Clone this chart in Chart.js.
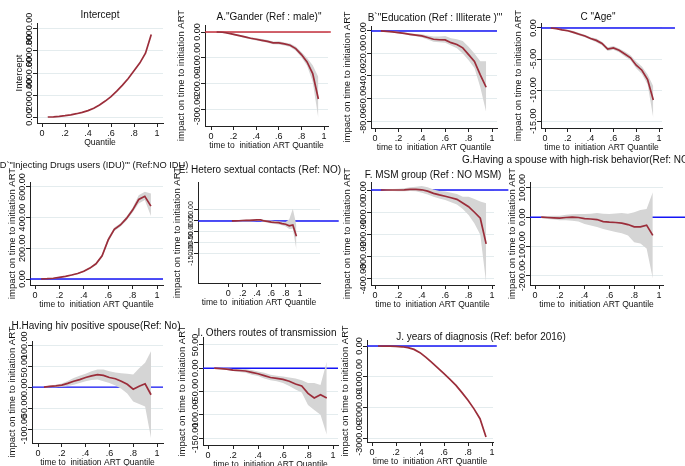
<!DOCTYPE html>
<html>
<head>
<meta charset="utf-8">
<script src="https://cdn.jsdelivr.net/npm/chart.js@4.4.1/dist/chart.umd.min.js"></script>
<style>
  body { margin: 0; background: #fff; }
  #wrap { position: relative; width: 685px; height: 466px; overflow: hidden; }
  #wrap canvas { position: absolute; left: 0; top: 0; }
</style>
</head>
<body>
<div id="wrap"></div>
<script>
// quantiles of time to ART initiation
const quantiles = [0.05, 0.1, 0.15, 0.2, 0.25, 0.3, 0.35, 0.4, 0.45, 0.5, 0.55, 0.6, 0.65, 0.7, 0.75, 0.8, 0.85, 0.9, 0.95]
const xTicks = [0, 0.2, 0.4, 0.6, 0.8, 1]

const interceptEst = [0, 20, 60, 120, 200, 300, 420, 580, 800, 1100, 1450, 1850, 2350, 2900, 3500, 4200, 4900, 5800, 7500]
const interceptTicks = [0, 2000, 4000, 6000, 8000]

const genderEst = [0, -1, -4, -9, -14, -19, -24, -28, -32, -36, -42, -42, -46, -51, -64, -87, -115, -160, -258]
const genderLo = [0, -2, -6, -12, -17, -23, -28, -33, -37, -41, -47, -48, -52, -58, -72, -97, -130, -192, -332]
const genderHi = [0, 0, -2, -6, -11, -15, -20, -23, -27, -31, -37, -36, -40, -44, -56, -77, -100, -128, -173]
const genderTicks = [-300, -200, -100, 0]

const eduEst = [0, -0.3, -0.8, -1.5, -2.2, -3, -3.7, -4.4, -5.8, -7.4, -7.8, -8, -10.4, -12, -15, -21, -27, -39, -50]
const eduLo = [0, -0.5, -1.3, -2.2, -3, -4, -4.8, -5.8, -7.5, -9.5, -10, -10.4, -13, -15.4, -20, -26, -33, -50, -72]
const eduHi = [0, -0.1, -0.3, -0.8, -1.4, -2, -2.6, -3, -4, -5, -5, -4.4, -6.5, -7.4, -9, -14, -20, -27, -27]
const eduTicks = [-80, -60, -40, -20, 0]

const ageEst = [0, -0.1, -0.3, -0.45, -0.7, -1, -1.3, -1.7, -2, -2.5, -3.4, -3.2, -3.6, -4.2, -4.8, -6, -6.8, -8.3, -11.6]
const ageLo = [0, -0.2, -0.4, -0.6, -0.9, -1.2, -1.5, -1.9, -2.3, -2.8, -3.7, -3.5, -3.9, -4.6, -5.2, -6.5, -7.4, -9.1, -14.5]
const ageHi = [0, 0, -0.2, -0.3, -0.5, -0.8, -1.1, -1.5, -1.7, -2.2, -3.1, -2.9, -3.3, -3.8, -4.4, -5.4, -6.2, -7.5, -9.4]
const ageTicks = [-15, -10, -5, 0]

const iduEst = [0, 2, 5, 11, 17, 26, 36, 50, 71, 99, 151, 255, 324, 352, 395, 449, 518, 539, 475]
const iduLo = [0, 1, 3, 8, 14, 22, 31, 45, 65, 92, 140, 240, 312, 340, 382, 434, 492, 514, 410]
const iduHi = [0, 3, 7, 14, 20, 30, 41, 55, 77, 106, 162, 270, 336, 364, 408, 464, 546, 568, 557]
const iduTicks = [0, 200, 400, 600]

const heteroEst = [0, 0, 1, 2, 2.5, 3, 4, 5, 5, 0, -2, -5, -7, -8, -12, -15, -22, -18, -70]
const heteroLo = [0, -2, -3, -2, -2, -2, -1, 0, 0, -5, -8, -12, -14, -16, -20, -25, -37, -35, -132]
const heteroHi = [0, 2, 4, 5, 6, 7, 8, 9, 9, 5, 3, 2, 0, -1, -4, -5, 8, 55, -20]
const heteroTicks = [-150, -100, -50, 0, 50]

const msmEst = [0, 0, 0, 0, 1, 3, 3, 1, -5, -15, -22, -28, -35, -42, -58, -75, -100, -127, -242]
const msmLo = [0, -3, -5, -6, -6, -5, -6, -12, -20, -30, -38, -45, -55, -65, -85, -112, -150, -201, -418]
const msmHi = [0, 3, 5, 6, 8, 12, 15, 18, 12, 2, -5, -7, -12, -18, -30, -30, -40, -52, -60]
const msmTicks = [-400, -300, -200, -100, 0]

const riskEst = [0, -1, -2, -3, -1, 0, -1, -5, -6, -8, -15, -17, -18, -20, -25, -33, -33, -27, -62]
const riskLo = [-3, -6, -8, -10, -10, -12, -15, -23, -28, -33, -40, -45, -50, -55, -62, -85, -90, -107, -209]
const riskHi = [3, 4, 5, 5, 8, 10, 11, 11, 12, 14, 12, 11, 13, 14, 12, 17, 25, 28, 85]
const riskTicks = [-200, -100, 0, 100]

const hivEst = [0, 2, 3, 5, 9, 14, 18, 23, 27, 30, 28, 23, 20, 14, 7, -5, 2, 8, -18]
const hivLo = [-1, 0, 0, 1, 3, 6, 10, 14, 17, 18, 14, 10, 4, -4, -15, -34, -40, -46, -122]
const hivHi = [1, 4, 6, 9, 15, 22, 27, 32, 38, 42, 42, 38, 35, 33, 32, 30, 45, 58, 86]
const hivTicks = [-100, -50, 0, 50, 100]

const otherEst = [0, -1, -2, -4, -5, -6, -9, -12, -16, -20, -22, -24, -28, -34, -38, -54, -64, -57, -64]
const otherLo = [-1, -2, -4, -6, -8, -10, -14, -17, -22, -26, -28, -32, -38, -46, -52, -79, -90, -100, -143]
const otherHi = [1, 0, 0, -2, -2, -2, -4, -7, -10, -14, -16, -18, -20, -22, -26, -32, -32, -36, 14]
const otherTicks = [-150, -100, -50, 0, 50]

const yearsEst = [0, -2, -5, -11, -25, -54, -110, -217, -370, -543, -720, -902, -1090, -1283, -1520, -1772, -2050, -2370, -2967]
const yearsTicks = [-3000, -2000, -1000, 0]

const FONT = '"Liberation Sans", Arial, sans-serif'
const lineRed = '#9b2d3a'
const bandGrey = '#d5d5d5'
const refBlue = '#1515f5'
const gridColor = '#e4ecee'
const yLab = 'impact on time to initiation ART'
const xLab = 'time to  initiation ART Quantile'

// draws the Stata-like titles and the rotated y tick labels
const panelText = {
  id: 'panelText',
  afterDraw(chart, args, o) {
    const { ctx, chartArea: a } = chart
    const ys = chart.scales.y
    ctx.save()
    ctx.fillStyle = '#111'
    ctx.textAlign = 'center'
    ctx.textBaseline = 'middle'
    ctx.font = `${o.titleSize}px ${FONT}`
    ctx.fillText(o.title, o.titleX, o.titleY)
    ctx.font = `8.5px ${FONT}`
    ctx.fillText(o.xTitle, (a.left + a.right) / 2, a.bottom + 20)
    ctx.font = `${o.tickSize}px ${FONT}`
    ys.ticks.forEach(t => {
      ctx.save()
      ctx.translate(a.left - 7, ys.getPixelForValue(t.value))
      ctx.rotate(-Math.PI / 2)
      ctx.fillText(t.value.toFixed(2), 0, 0)
      ctx.restore()
    })
    ctx.font = `9.5px ${FONT}`
    ctx.translate(a.left - o.yTitleOff, (a.top + a.bottom) / 2)
    ctx.rotate(-Math.PI / 2)
    ctx.fillText(o.yTitle, 0, 0)
    ctx.restore()
  }
}

const panels = [
  { title: 'Intercept', titleX: 100, titleY: 15, est: interceptEst, yTicks: interceptTicks, yMin: -545, yMax: 8545,
    box: { l: 37, t: 23, r: 163, b: 123 }, x0: 42, x1: 157, yTitle: 'Intercept', xTitle: 'Quantile', yTitleOff: 18 },
  { title: 'A."Gander (Ref : male)"', titleX: 269, titleY: 17, est: genderEst, lo: genderLo, hi: genderHi,
    yTicks: genderTicks, yMin: -362, yMax: 27, box: { l: 205, t: 25, r: 328, b: 126 }, x0: 211, x1: 324,
    ref: '#c62f3b', refTo: 1.06, yTitleOff: 24 },
  { title: 'B`"Education (Ref : Illiterate )"\'', titleX: 435, titleY: 18, est: eduEst, lo: eduLo, hi: eduHi,
    yTicks: eduTicks, yMin: -86.2, yMax: 4.4, box: { l: 371, t: 26, r: 497, b: 128 }, x0: 375, x1: 492,
    ref: refBlue, yTitleOff: 24 },
  { title: 'C "Age"', titleX: 598, titleY: 17, est: ageEst, lo: ageLo, hi: ageHi,
    yTicks: ageTicks, yMin: -16.1, yMax: 0.8, box: { l: 541, t: 23, r: 662, b: 128 }, x0: 545, x1: 659,
    ref: refBlue, refTo: 1.14, yTitleOff: 23 },
  { title: 'D`"Injecting Drugs users (IDU)"\' (Ref:NO IDU)', titleX: 94, titleY: 165, titleSize: 9.3, est: iduEst, lo: iduLo, hi: iduHi,
    yTicks: iduTicks, yMin: -39, yMax: 632, box: { l: 30, t: 182, r: 163, b: 285 }, x0: 35, x1: 157,
    ref: refBlue, yTitleOff: 18 },
  { title: 'E. Hetero sextual contacts (Ref: NO)', titleX: 260, titleY: 170, est: heteroEst, lo: heteroLo, hi: heteroHi,
    yTicks: heteroTicks, yMin: -282, yMax: 177, box: { l: 198, t: 182, r: 320, b: 283 }, x0: 228.3, x1: 300,
    ref: refBlue, refTo: 1.54, yTitleOff: 21, tickSize: 7 },
  { title: 'F. MSM group (Ref : NO MSM)', titleX: 433, titleY: 175, est: msmEst, lo: msmLo, hi: msmHi,
    yTicks: msmTicks, yMin: -427, yMax: 36, box: { l: 371, t: 182, r: 494, b: 285 }, x0: 375, x1: 492,
    ref: refBlue, refTo: 1.14, yTitleOff: 24 },
  { title: 'G.Having a spouse with high-risk behavior(Ref: NO)', titleX: 577, titleY: 160, est: riskEst, lo: riskLo, hi: riskHi,
    yTicks: riskTicks, yMin: -231, yMax: 120, box: { l: 530, t: 182, r: 663, b: 285 }, x0: 535, x1: 659,
    ref: refBlue, refTo: 1.21, yTitleOff: 18 },
  { title: 'H.Having hiv positive spouse(Ref: No)', titleX: 96, titleY: 326, est: hivEst, lo: hivLo, hi: hivHi,
    yTicks: hivTicks, yMin: -133, yMax: 110, box: { l: 32, t: 341, r: 163, b: 443 }, x0: 38, x1: 157,
    ref: refBlue, yTitleOff: 20 },
  { title: 'I. Others routes of transmission', titleX: 267, titleY: 333, est: otherEst, lo: otherLo, hi: otherHi,
    yTicks: otherTicks, yMin: -165, yMax: 67, box: { l: 203, t: 337, r: 338, b: 445 }, x0: 208, x1: 333,
    ref: refBlue, yTitleOff: 21 },
  { title: 'J. years of diagnosis (Ref: befor 2016)', titleX: 481, titleY: 337, est: yearsEst,
    yTicks: yearsTicks, yMin: -3130, yMax: 196, box: { l: 367, t: 340, r: 493, b: 442 }, x0: 372, x1: 492,
    ref: refBlue, refTo: 1.04, yTitleOff: 22 }
]

const wrap = document.getElementById('wrap')
const pts = arr => quantiles.map((q, i) => ({ x: q, y: arr[i] }))

panels.forEach(p => {
  const canvas = document.createElement('canvas')
  canvas.width = 685
  canvas.height = 466
  wrap.appendChild(canvas)

  const span = p.x1 - p.x0
  const xMin = -(p.x0 - p.box.l) / span
  const xMax = 1 + (p.box.r - p.x1) / span

  const datasets = [{
    data: pts(p.est), borderColor: lineRed, borderWidth: 1.7, pointRadius: 0, fill: false
  }]
  if (p.lo) {
    datasets.push(
      { data: pts(p.hi), borderColor: 'rgba(0,0,0,0)', borderWidth: 0, pointRadius: 0, backgroundColor: bandGrey, fill: '+1' },
      { data: pts(p.lo), borderColor: 'rgba(0,0,0,0)', borderWidth: 0, pointRadius: 0, fill: false }
    )
  }
  if (p.ref) {
    datasets.push({
      data: [{ x: xMin, y: 0 }, { x: p.refTo || xMax, y: 0 }],
      borderColor: p.ref, borderWidth: 1.4, pointRadius: 0, fill: false, clip: false
    })
  }

  new Chart(canvas, {
    type: 'line',
    data: { datasets },
    plugins: [panelText],
    options: {
      responsive: false,
      animation: false,
      layout: { padding: { left: p.box.l - 20, top: p.box.t, right: 685 - p.box.r, bottom: 466 - p.box.b - 20 } },
      plugins: {
        legend: { display: false },
        tooltip: { enabled: false },
        panelText: {
          title: p.title, titleX: p.titleX, titleY: p.titleY, titleSize: p.titleSize || 10,
          xTitle: p.xTitle || xLab, yTitle: p.yTitle || yLab,
          yTitleOff: p.yTitleOff, tickSize: p.tickSize || 9
        }
      },
      scales: {
        x: {
          type: 'linear', min: xMin, max: xMax,
          afterBuildTicks: s => { s.ticks = xTicks.map(v => ({ value: v })) },
          afterFit: s => { s.height = 20 },
          grid: { drawOnChartArea: false, drawTicks: true, tickLength: 4, tickColor: '#222' },
          border: { display: true, color: '#222', width: 1 },
          ticks: {
            autoSkip: false, maxRotation: 0, padding: 1, color: '#111',
            font: { family: FONT, size: 9 },
            callback: v => v === 0 ? '0' : v === 1 ? '1' : String(v).slice(1)
          }
        },
        y: {
          min: p.yMin, max: p.yMax,
          afterBuildTicks: s => { s.ticks = p.yTicks.map(v => ({ value: v })) },
          afterFit: s => { s.width = 20 },
          grid: { color: gridColor, lineWidth: 1, drawTicks: true, tickLength: 4, tickColor: '#222' },
          border: { display: true, color: '#222', width: 1 },
          ticks: { display: false }
        }
      }
    }
  })
})
</script>
</body>
</html>
